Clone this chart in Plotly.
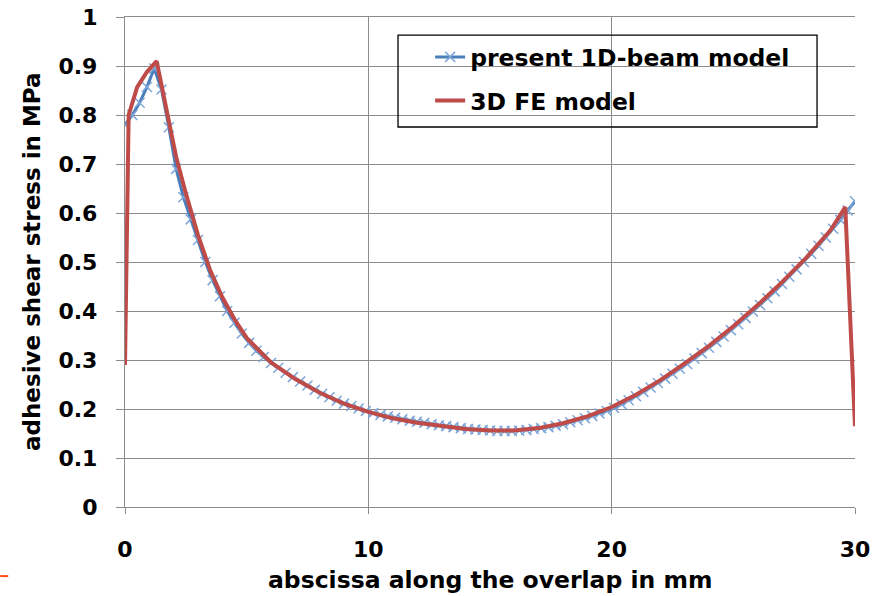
import plotly.graph_objects as go

# ---- data ----
beam_x = [0.0, 0.3, 0.6, 0.9, 1.2, 1.5, 1.8, 2.1, 2.4, 2.7, 3.0, 3.3, 3.6, 3.9, 4.2, 4.5, 4.8, 5.1, 5.4, 5.7,
          6.0, 6.3, 6.6, 6.9, 7.2, 7.5, 7.8, 8.1, 8.4, 8.7, 9.0, 9.3, 9.6, 9.9, 10.2, 10.5, 10.8, 11.1, 11.4, 11.7,
          12.0, 12.3, 12.6, 12.9, 13.2, 13.5, 13.8, 14.1, 14.4, 14.7, 15.0, 15.3, 15.6, 15.9, 16.2, 16.5, 16.8, 17.1,
          17.4, 17.7, 18.0, 18.3, 18.6, 18.9, 19.2, 19.5, 19.8, 20.1, 20.4, 20.7, 21.0, 21.3, 21.6, 21.9, 22.2, 22.5,
          22.8, 23.1, 23.4, 23.7, 24.0, 24.3, 24.6, 24.9, 25.2, 25.5, 25.8, 26.1, 26.4, 26.7, 27.0, 27.3, 27.6, 27.9,
          28.2, 28.5, 28.8, 29.1, 29.4, 29.7, 30.0]
beam_tau = [0.780, 0.800, 0.825, 0.857, 0.895, 0.852, 0.775, 0.690, 0.632, 0.587, 0.545, 0.500, 0.463, 0.430,
            0.400, 0.376, 0.354, 0.335, 0.319, 0.306, 0.294, 0.284, 0.274, 0.265, 0.256, 0.248, 0.239, 0.231,
            0.224, 0.217, 0.211, 0.206, 0.201, 0.196, 0.192, 0.188, 0.185, 0.182, 0.179, 0.176, 0.174, 0.172,
            0.169, 0.167, 0.165, 0.163, 0.161, 0.159, 0.158, 0.157, 0.156, 0.155, 0.155, 0.155, 0.156, 0.157,
            0.159, 0.161, 0.163, 0.166, 0.169, 0.173, 0.177, 0.181, 0.186, 0.191, 0.196, 0.202, 0.210, 0.218,
            0.226, 0.235, 0.244, 0.253, 0.262, 0.272, 0.282, 0.292, 0.303, 0.314, 0.325, 0.337, 0.348, 0.361,
            0.373, 0.386, 0.399, 0.412, 0.426, 0.440, 0.455, 0.470, 0.485, 0.500, 0.517, 0.533, 0.550, 0.568,
            0.586, 0.605, 0.624]

fe_x = [0.0, 0.15, 0.5, 0.9, 1.3, 1.7, 2.1, 2.5, 3.0, 3.5, 4.0, 4.5, 5.0, 6.0, 7.0, 8.0, 9.0, 10.0, 11.0,
        12.0, 13.0, 14.0, 15.0, 16.0, 17.0, 18.0, 19.0, 20.0, 21.0, 22.0, 23.0, 24.0, 25.0, 26.0, 27.0,
        28.0, 29.0, 29.6, 30.0]
fe_tau = [0.290, 0.800, 0.857, 0.888, 0.910, 0.815, 0.715, 0.640, 0.555, 0.483, 0.428, 0.383, 0.345, 0.295,
          0.261, 0.233, 0.211, 0.194, 0.181, 0.172, 0.165, 0.159, 0.156, 0.156, 0.161, 0.171, 0.185, 0.204,
          0.229, 0.259, 0.293, 0.329, 0.369, 0.412, 0.459, 0.509, 0.565, 0.612, 0.165]

x_ticks = [0, 10, 20, 30]
y_ticks = [0, 0.1, 0.2, 0.3, 0.4, 0.5, 0.6, 0.7, 0.8, 0.9, 1]
y_tick_text = ["0", "0.1", "0.2", "0.3", "0.4", "0.5", "0.6", "0.7", "0.8", "0.9", "1"]

FONT = "DejaVu Sans"
GRID = "#8c8c8c"

fig = go.Figure()
fig.add_trace(go.Scatter(
    x=beam_x, y=beam_tau, mode="lines+markers", name="present 1D-beam model",
    legendgroup="a",
    line=dict(color="#4a7ebb", width=3),
    marker=dict(symbol="x-thin", size=10, color="#7ea6d8",
                line=dict(color="#7ea6d8", width=1.5)),
))
fig.add_trace(go.Scatter(
    x=fe_x, y=fe_tau, mode="lines", name="3D FE model",
    legendgroup="b",
    line=dict(color="#be4b48", width=4),
))

fig.update_layout(
    width=883, height=596,
    margin=dict(l=125, r=28, t=17, b=89, autoexpand=False),
    paper_bgcolor="white", plot_bgcolor="white",
    showlegend=True,
    legend=dict(
        x=0.418, y=0.963, xanchor="left", yanchor="top",
        bgcolor="rgba(0,0,0,0)", borderwidth=0,
        font=dict(family=FONT, size=23.5, color="black", weight="bold"),
        tracegroupgap=10, traceorder="grouped",
    ),
    xaxis=dict(
        range=[0, 30], tickvals=x_ticks, ticks="outside", ticklen=6, tickcolor=GRID,
        showgrid=True, gridcolor=GRID, gridwidth=1.3, automargin=False,
        showline=True, mirror=True, linecolor=GRID, linewidth=1.3, zeroline=False,
        tickfont=dict(family=FONT, size=22, color="black", weight="bold"),
        ticklabelstandoff=16, ticklabeloverflow="allow",
    ),
    yaxis=dict(
        range=[0, 1], tickvals=y_ticks, ticktext=y_tick_text, ticks="outside", ticklen=8,
        tickcolor=GRID, automargin=False,
        showgrid=True, gridcolor=GRID, gridwidth=1.3,
        showline=True, linecolor=GRID, linewidth=1.3, zeroline=False,
        tickfont=dict(family=FONT, size=22, color="black", weight="bold"),
        ticklabelstandoff=14, ticklabeloverflow="allow",
    ),
    annotations=[
        dict(text="abscissa along the overlap in mm", xref="paper", yref="paper",
             x=0.5, y=0, xanchor="center", yanchor="middle", yshift=-73, showarrow=False,
             font=dict(family=FONT, size=23.5, color="black", weight="bold")),
        dict(text="adhesive shear stress in MPa", xref="paper", yref="paper",
             x=0, y=0.5, xanchor="center", yanchor="middle", xshift=-93, textangle=-90,
             showarrow=False,
             font=dict(family=FONT, size=23, color="black", weight="bold")),
    ],
    shapes=[
        dict(type="rect", xref="paper", yref="paper", x0=0.374, x1=0.948, y0=0.7755, y1=0.963,
             line=dict(color="black", width=1.3), fillcolor="rgba(0,0,0,0)", layer="above"),
        dict(type="line", xref="paper", yref="paper", x0=-0.171, x1=-0.160, y0=-0.141, y1=-0.141,
             line=dict(color="#ff4a1a", width=2)),
    ],
)

fig.write_html("out.html", config={"displayModeBar": False},
               post_script="document.body.style.margin='0';document.body.style.overflow='hidden';")
